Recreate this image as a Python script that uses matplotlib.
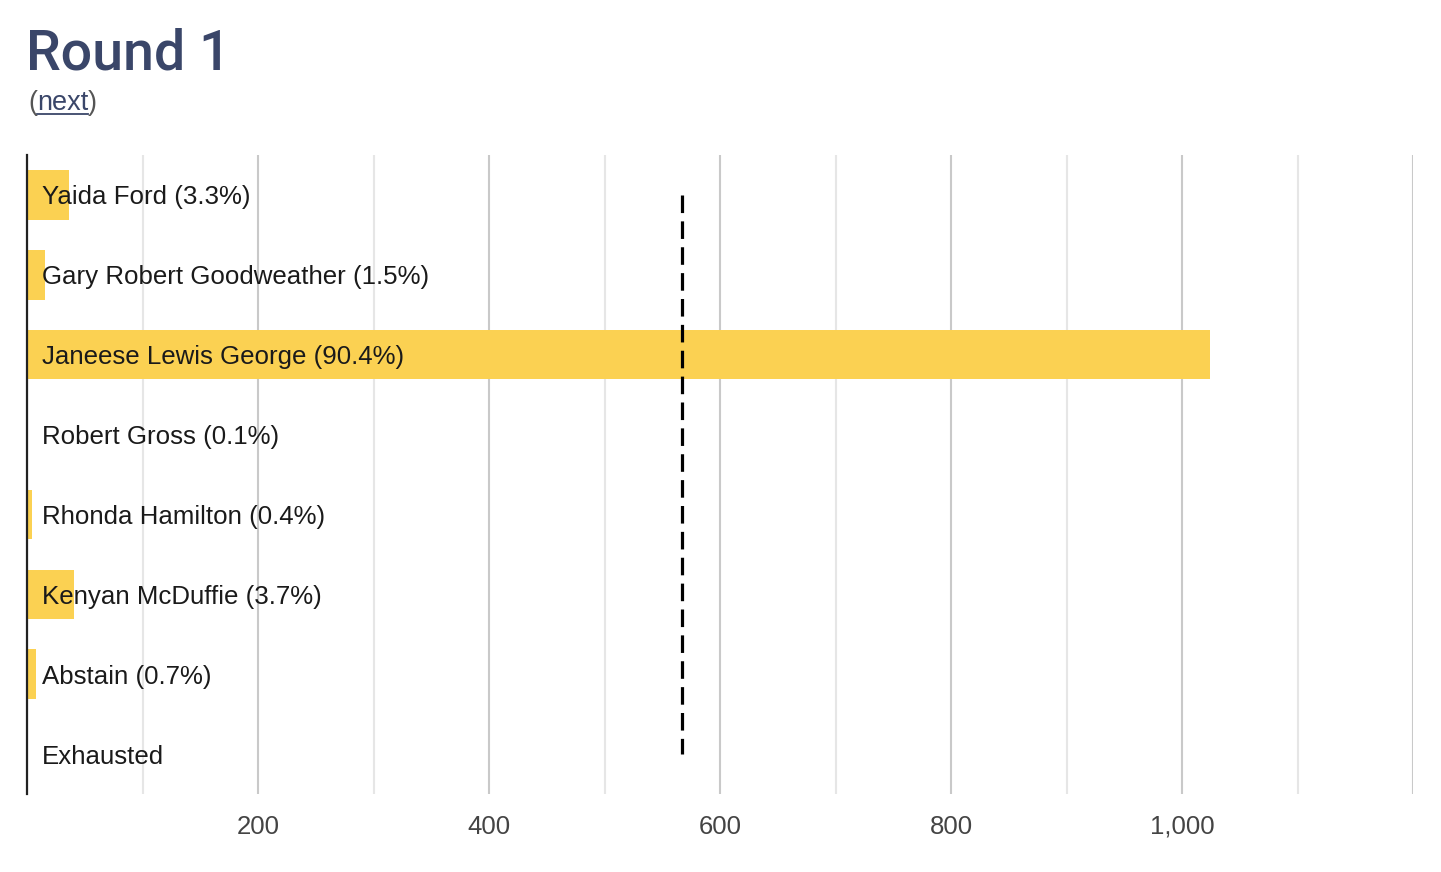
import matplotlib

matplotlib.use("Agg")
import matplotlib.pyplot as plt
import numpy as np
from matplotlib.ticker import FuncFormatter, MultipleLocator

candidates = [
    "Yaida Ford",
    "Gary Robert Goodweather",
    "Janeese Lewis George",
    "Robert Gross",
    "Rhonda Hamilton",
    "Kenyan McDuffie",
    "Abstain",
    "Exhausted",
]
votes = [36, 16, 1024, 1, 4, 41, 8, 0]
percents = ["3.3%", "1.5%", "90.4%", "0.1%", "0.4%", "3.7%", "0.7%", None]
threshold = 567

W, H, DPI = 1441, 872, 100
BAR = "#fbd152"
NAVY = "#3a4669"
plt.rcParams["font.family"] = ["Liberation Sans", "DejaVu Sans"]

fig = plt.figure(figsize=(W / DPI, H / DPI), dpi=DPI, facecolor="white")

# axes box in pixel terms
left, right, top, bottom = 27, 1413, 155, 794
ax = fig.add_axes([left / W, 1 - bottom / H, (right - left) / W, (bottom - top) / H])

y = np.arange(len(candidates))
ax.barh(y, votes, height=0.62, color=BAR, zorder=2)

for yi, name, pct in zip(y, candidates, percents):
    label = name if pct is None else f"{name} ({pct})"
    ax.text(13, yi, label, va="center_baseline", ha="left", fontsize=18.6,
            color="#1a1a1a", zorder=4)

ax.vlines(threshold, 0, len(candidates) - 1, colors="black", linewidth=2.3,
          linestyles=(0, (5.5, 2.6)), zorder=3)

ax.set_xlim(0, 1200)
ax.set_ylim(len(candidates) - 0.5, -0.5)
ax.xaxis.set_major_locator(MultipleLocator(200))
ax.xaxis.set_minor_locator(MultipleLocator(100))
ax.xaxis.set_major_formatter(FuncFormatter(lambda v, _: "" if v in (0, 1200) else f"{int(v):,}"))
ax.grid(True, axis="x", which="major", color="#c9c9c9", linewidth=1.5, zorder=0)
ax.grid(True, axis="x", which="minor", color="#e6e6e6", linewidth=1.5, zorder=0)
ax.set_axisbelow(True)
ax.set_yticks([])
ax.tick_params(axis="x", which="both", length=0, pad=15, labelsize=18.5, labelcolor="#444444")
for side in ("top", "right", "bottom"):
    ax.spines[side].set_visible(False)
ax.spines["left"].set_color("#222222")
ax.spines["left"].set_linewidth(1.6)

fig.text(26 / W, 1 - 70 / H, "Round 1", fontsize=40, fontweight="medium", color=NAVY,
         family=["Roboto", "DejaVu Sans"], ha="left", va="baseline")

# "(next)" link with underline, pieces placed from measured widths
renderer = fig.canvas.get_renderer()
x_px = 28
base = 1 - 110 / H
for part, col in (("(", "#555555"), ("next", NAVY), (")", "#555555")):
    t = fig.text(x_px / W, base, part, fontsize=19.5, color=col, ha="left", va="baseline")
    w = t.get_window_extent(renderer).width
    if part == "next":
        fig.lines.append(plt.Line2D([x_px / W, (x_px + w) / W], [1 - 114 / H] * 2,
                                    transform=fig.transFigure, color=NAVY, linewidth=1.3))
    x_px += w

fig.savefig("out.png", dpi=DPI, facecolor="white")
